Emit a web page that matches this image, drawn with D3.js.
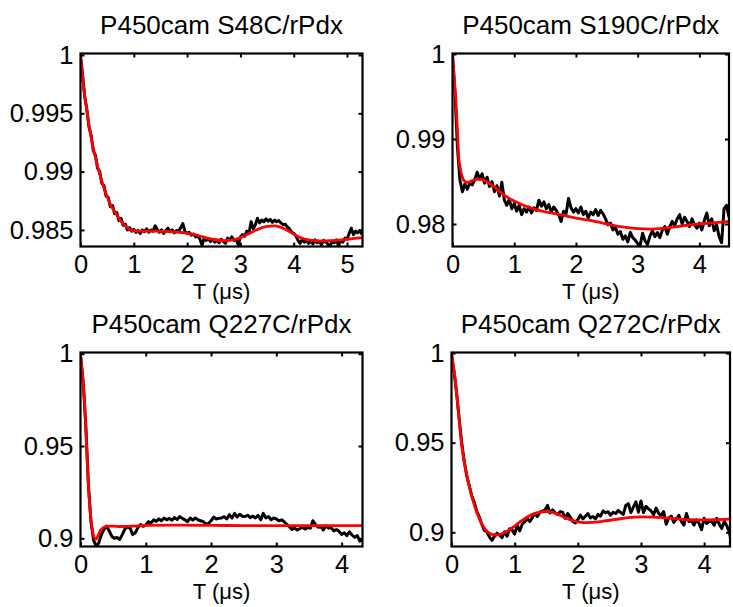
<!DOCTYPE html>
<html><head><meta charset="utf-8">
<script src="https://cdn.jsdelivr.net/npm/d3@7"></script>
<style>
html,body{margin:0;padding:0;background:#fff;}
svg{display:block;}
text{font-family:"Liberation Sans",Arial,Helvetica,sans-serif;fill:#000;}
</style>
</head><body>
<svg id="chart" width="733" height="607"></svg>
<script>
// ---------------- DATA ----------------
const titles = ["P450cam S48C/rPdx", "P450cam S190C/rPdx", "P450cam Q227C/rPdx", "P450cam Q272C/rPdx"];
const xLabel = "T (\u03bcs)";
const xDomains = [[0, 5.29], [0, 4.48], [0, 4.32], [0, 4.41]];
const yDomains = [[0.98358, 1.00013], [0.97735, 1.00006], [0.89556, 1.00065], [0.89207, 1.00033]];
const xTicks = [[0, 1, 2, 3, 4, 5], [0, 1, 2, 3, 4], [0, 1, 2, 3, 4], [0, 1, 2, 3, 4]];
const yTicks = [[0.985, 0.99, 0.995, 1], [0.98, 0.99, 1], [0.9, 0.95, 1], [0.9, 0.95, 1]];
const sampleStep = 0.04; // µs between measured points

// measured traces (black)
const dataS48C = [0.9999,0.9983,0.9964,0.9953,0.9938,0.9931,0.9918,0.9914,0.9903,0.9900,
0.9890,0.9888,0.9879,0.9878,0.9870,0.9871,0.9864,0.9865,0.9858,0.9860,
0.9854,0.9855,0.9850,0.9852,0.9849,0.98505,0.98480,0.98495,0.98470,0.98500,
0.98485,0.98510,0.98480,0.98500,0.98490,0.98535,0.98505,0.98480,0.98500,0.98470,
0.98495,0.98515,0.98485,0.98500,0.98475,0.98495,0.98490,0.98520,0.98555,0.98485,
0.98470,0.98480,0.98455,0.98465,0.98440,0.98450,0.98420,0.98370,0.98430,0.98410,
0.98425,0.98400,0.98420,0.98395,0.98410,0.98390,0.98420,0.98400,0.98385,0.98430,
0.98415,0.98440,0.98410,0.98420,0.98370,0.98440,0.98460,0.98445,0.98490,0.98470,
0.98570,0.98510,0.98545,0.98600,0.98560,0.98585,0.98570,0.98595,0.98575,0.98590,
0.98565,0.98585,0.98570,0.98580,0.98560,0.98545,0.98550,0.98525,0.98510,0.98480,
0.98470,0.98450,0.98410,0.98385,0.98420,0.98395,0.98410,0.98385,0.98405,0.98380,
0.98415,0.98390,0.98400,0.98375,0.98410,0.98395,0.98380,0.98358,0.98405,0.98390,
0.98415,0.98365,0.98410,0.98395,0.98430,0.98420,0.98470,0.98515,0.98460,0.98490,
0.98475,0.98495,0.98460];

const dataS190C = [0.9998,0.9955,0.9890,0.9852,0.9838,0.9847,0.9841,0.9848,0.9846,0.9852,
0.9861,0.9853,0.9859,0.9848,0.9855,0.9844,0.9850,0.9838,0.9845,0.9833,
0.9849,0.9828,0.9822,0.9829,0.9818,0.9824,0.9815,0.9822,0.9811,0.9818,
0.9814,0.9820,0.9813,0.9819,0.9816,0.9828,0.9821,0.9826,0.9818,0.9823,
0.9814,0.9820,0.9816,0.9811,0.9803,0.9815,0.9812,0.9830,0.9819,0.9814,
0.9818,0.9813,0.9820,0.9811,0.9815,0.9807,0.9814,0.9811,0.9817,0.9810,
0.9816,0.9812,0.9806,0.9799,0.9801,0.9793,0.9796,0.9788,0.9791,0.9782,
0.9786,0.9779,0.9790,0.9784,0.9781,0.9777,0.9775,0.9789,0.9780,0.9776,
0.9786,0.9792,0.9785,0.9790,0.9784,0.9793,0.9797,0.9788,0.9797,0.9803,
0.9798,0.9806,0.9811,0.9800,0.9808,0.9803,0.9797,0.9806,0.9799,0.9795,
0.9801,0.9793,0.9804,0.9813,0.9798,0.9806,0.9792,0.9799,0.9785,0.9778,
0.9818,0.9822,0.9808];

const dataQ227C = [0.9990,0.9850,0.9620,0.9300,0.9090,0.8990,0.8958,0.8975,0.9020,0.9048,
0.9066,0.9040,0.9010,0.9000,0.9004,0.8994,0.9020,0.9050,0.9062,0.9055,
0.9020,0.9030,0.9058,0.9075,0.9065,0.9072,0.9090,0.9083,0.9100,0.9092,
0.9105,0.9095,0.9110,0.9100,0.9108,0.9098,0.9112,0.9102,0.9118,0.9108,
0.9100,0.9090,0.9110,0.9098,0.9110,0.9100,0.9095,0.9090,0.9078,0.9080,
0.9095,0.9115,0.9105,0.9108,0.9110,0.9117,0.9105,0.9128,0.9110,0.9135,
0.9115,0.9130,0.9120,0.9118,0.9125,0.9112,0.9120,0.9110,0.9124,0.9100,
0.9135,0.9110,0.9118,0.9100,0.9110,0.9105,0.9095,0.9100,0.9090,0.9075,
0.9063,0.9048,0.9055,0.9045,0.9052,0.9060,0.9050,0.9058,0.9055,0.9095,
0.9075,0.9060,0.9063,0.9045,0.9068,0.9055,0.9058,0.9040,0.9048,0.9038,
0.9020,0.9030,0.9015,0.9035,0.9018,0.9005,0.9015,0.8985,0.8995];

const dataQ272C = [0.9990,0.9895,0.9780,0.9640,0.9505,0.9400,0.9318,0.9262,0.9205,0.9168,
0.9118,0.9085,0.9045,0.9010,0.9003,0.8975,0.8955,0.8978,0.8995,0.8985,
0.8970,0.9003,0.8978,0.9020,0.9012,0.8990,0.9040,0.9008,0.9045,0.9058,
0.9075,0.9060,0.9082,0.9105,0.9088,0.9112,0.9118,0.9125,0.9150,0.9108,
0.9125,0.9110,0.9098,0.9115,0.9112,0.9078,0.9105,0.9085,0.9060,0.9052,
0.9070,0.9096,0.9075,0.9090,0.9105,0.9080,0.9088,0.9075,0.9100,0.9090,
0.9120,0.9108,0.9115,0.9095,0.9112,0.9105,0.9122,0.9110,0.9100,0.9150,
0.9160,0.9110,0.9140,0.9170,0.9112,0.9175,0.9110,0.9145,0.9130,0.9120,
0.9098,0.9135,0.9105,0.9095,0.9115,0.9045,0.9080,0.9090,0.9055,0.9075,
0.9095,0.9060,0.9040,0.9105,0.9060,0.9065,0.9040,0.9070,0.9050,0.9015,
0.9078,0.9050,0.9060,0.9062,0.9040,0.9078,0.9045,0.9022,0.9062,0.9035,
0.9000,0.8930];

// fitted curves (red)
const fitS48C_t = [0,0.03,0.06,0.09,0.12,0.16,0.21,0.27,0.33,0.40,0.48,0.56,0.65,0.75,0.85,0.95,1.05,1.3,1.6,1.9,2.1,2.3,2.5,2.7,2.9,3.1,3.3,3.5,3.65,3.8,3.95,4.1,4.3,4.5,4.7,4.9,5.1,5.3];
const fitS48C_v = [1.0000,0.9985,0.9972,0.9962,0.9952,0.9940,0.9927,0.9914,0.9903,0.9892,0.9881,0.9872,0.9865,0.9858,0.9853,0.9850,0.9849,0.98490,0.98488,0.98478,0.98465,0.98440,0.98418,0.98408,0.98418,0.98455,0.98500,0.98530,0.98535,0.98515,0.98478,0.98440,0.98412,0.98405,0.98408,0.98415,0.98425,0.98435];

const fitS190C_t = [0,0.02,0.04,0.06,0.08,0.10,0.13,0.16,0.20,0.25,0.32,0.40,0.47,0.55,0.63,0.72,0.80,0.90,1.0,1.15,1.3,1.45,1.6,1.8,2.0,2.25,2.5,2.75,3.0,3.2,3.4,3.6,3.8,4.0,4.2,4.48];
const fitS190C_v = [1.0,0.9980,0.9960,0.9938,0.9910,0.9880,0.9864,0.9855,0.9850,0.9849,0.9851,0.98525,0.98525,0.9850,0.9846,0.9841,0.9836,0.9831,0.9827,0.9822,0.9818,0.9815,0.9813,0.9810,0.9807,0.9804,0.9800,0.97965,0.97945,0.97940,0.97948,0.97965,0.97985,0.98000,0.98012,0.98030];

const fitQ227C_t = [0,0.03,0.06,0.09,0.12,0.15,0.18,0.21,0.24,0.27,0.31,0.36,0.42,0.5,0.6,0.8,1.0,1.5,2.0,2.5,3.0,3.5,4.0,4.33];
const fitQ227C_v = [1.0,0.9890,0.9750,0.9530,0.9290,0.9140,0.9050,0.9005,0.8996,0.9015,0.9045,0.9060,0.9066,0.9066,0.9064,0.9066,0.9070,0.9071,0.9070,0.9069,0.9069,0.9069,0.9069,0.9069];

const fitQ272C_t = [0,0.03,0.06,0.09,0.12,0.16,0.2,0.25,0.3,0.35,0.4,0.45,0.5,0.55,0.6,0.7,0.8,0.9,1.0,1.1,1.2,1.3,1.4,1.5,1.6,1.7,1.8,1.9,2.0,2.1,2.2,2.4,2.6,2.8,3.0,3.2,3.4,3.6,3.8,4.0,4.2,4.41];
const fitQ272C_v = [1.0,0.993,0.985,0.9745,0.9630,0.9490,0.9395,0.9305,0.9230,0.9165,0.9112,0.9068,0.9035,0.9010,0.8995,0.8985,0.8992,0.9010,0.9035,0.9062,0.9085,0.9103,0.9113,0.9116,0.9111,0.9098,0.9082,0.9068,0.9058,0.9054,0.9055,0.9062,0.9072,0.9082,0.9086,0.9085,0.9080,0.9074,0.9070,0.9069,0.9071,0.9074];

const measured = [dataS48C, dataS190C, dataQ227C, dataQ272C];
const fitT = [fitS48C_t, fitS190C_t, fitQ227C_t, fitQ272C_t];
const fitV = [fitS48C_v, fitS190C_v, fitQ227C_v, fitQ272C_v];

// ---------------- LAYOUT ----------------
const boxes = [
  [80.5, 53.5, 362.5, 246.5],
  [452.5, 53.5, 729, 246.5],
  [80.5, 352.5, 362.5, 546.5],
  [451.5, 352.5, 730, 546.5]
];
const FONT = '"Liberation Sans", Arial, Helvetica, sans-serif';
const tickFont = 25.5, titleFont = 26, labelFont = 22;

const svg = d3.select("#chart");
const fmtY = d => String(+d.toFixed(4));

boxes.forEach((b, i) => {
  const [x0, y0, x1, y1] = b;
  const x = d3.scaleLinear().domain(xDomains[i]).range([x0, x1]);
  const y = d3.scaleLinear().domain(yDomains[i]).range([y1, y0]);
  const g = svg.append("g");

  const clipId = "clip" + i;
  svg.append("clipPath").attr("id", clipId).append("rect")
    .attr("x", x0).attr("y", y0).attr("width", x1 - x0).attr("height", y1 - y0);

  const plot = g.append("g").attr("clip-path", `url(#${clipId})`);
  const lineLin = d3.line().x(d => x(d[0])).y(d => y(d[1]));
  const lineFit = d3.line().x(d => x(d[0])).y(d => y(d[1])).curve(d3.curveMonotoneX);

  plot.append("path")
    .datum(measured[i].map((v, j) => [j * sampleStep, v]))
    .attr("d", lineLin).attr("fill", "none")
    .attr("stroke", "#000").attr("stroke-width", 3)
    .attr("stroke-linejoin", "round");

  plot.append("path")
    .datum(fitT[i].map((t, j) => [t, fitV[i][j]]))
    .attr("d", lineFit).attr("fill", "none")
    .attr("stroke", "#ff0000").attr("stroke-width", 2.8)
    .attr("stroke-linejoin", "round");

  // axes
  const styleAxis = sel => {
    sel.select(".domain").remove();
    sel.selectAll(".tick line").attr("stroke", "#000").attr("stroke-width", 2);
    sel.selectAll(".tick text").attr("fill", "#000");
    sel.attr("font-family", FONT).attr("font-size", tickFont);
  };
  g.append("g").attr("transform", `translate(0,${y1})`)
    .call(d3.axisBottom(x).tickValues(xTicks[i]).tickSizeInner(-4).tickSizeOuter(0).tickPadding(8.5).tickFormat(d3.format("d")))
    .call(styleAxis);
  g.append("g").attr("transform", `translate(0,${y0})`)
    .call(d3.axisTop(x).tickValues(xTicks[i]).tickSizeInner(-4).tickSizeOuter(0).tickFormat(""))
    .call(styleAxis);
  g.append("g").attr("transform", `translate(${x0},0)`)
    .call(d3.axisLeft(y).tickValues(yTicks[i]).tickSizeInner(-4).tickSizeOuter(0).tickPadding(7).tickFormat(fmtY))
    .call(styleAxis);
  g.append("g").attr("transform", `translate(${x1},0)`)
    .call(d3.axisRight(y).tickValues(yTicks[i]).tickSizeInner(-4).tickSizeOuter(0).tickFormat(""))
    .call(styleAxis);

  g.append("rect").attr("x", x0).attr("y", y0).attr("width", x1 - x0).attr("height", y1 - y0)
    .attr("fill", "none").attr("stroke", "#000").attr("stroke-width", 2.2);

  g.append("text").attr("x", (x0 + x1) / 2).attr("y", y0 - 20)
    .attr("text-anchor", "middle").attr("font-size", titleFont).attr("font-family", FONT)
    .text(titles[i]);
  g.append("text").attr("x", (x0 + x1) / 2).attr("y", y1 + 52.5)
    .attr("text-anchor", "middle").attr("font-size", labelFont).attr("font-family", FONT)
    .text(xLabel);
});
</script>
</body></html>
